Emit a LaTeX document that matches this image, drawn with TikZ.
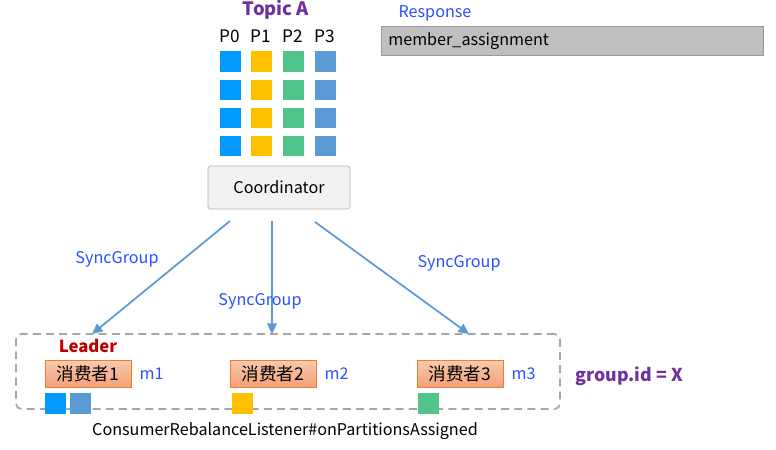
\documentclass[tikz,border=0pt]{standalone}
\usepackage{fontspec}
\setmainfont{Noto Sans CJK SC}
\usetikzlibrary{arrows.meta, positioning}

\definecolor{pzero}{RGB}{0,153,255}
\definecolor{pone}{RGB}{255,192,0}
\definecolor{ptwo}{RGB}{80,196,138}
\definecolor{pthree}{RGB}{91,155,213}
\definecolor{txtblue}{RGB}{40,80,255}
\definecolor{topicpurple}{RGB}{112,48,160}
\definecolor{leaderred}{RGB}{192,0,0}
\definecolor{consline}{RGB}{237,125,49}
\definecolor{constop}{RGB}{248,203,173}
\definecolor{consbot}{RGB}{242,160,120}

\begin{document}
\begin{tikzpicture}[x=0.02cm,y=-0.02cm,
  font=\fontsize{9.2pt}{11pt}\selectfont,
  part/.style={minimum size=0.42cm, inner sep=0pt},
  bluetext/.style={text=txtblue, inner sep=0pt},
  consumer/.style={draw=consline, top color=constop, bottom color=consbot,
    minimum width=1.72cm, minimum height=0.54cm, inner sep=0pt,
    font=\fontsize{10pt}{12pt}\selectfont},
  sync/.style={draw=pthree, line width=1pt, -{Triangle[width=5.5pt,length=6pt]}}]
\useasboundingbox (0,0) rectangle (776,449);

% topic and partitions
\node[text=topicpurple, font=\fontsize{10.5pt}{12pt}\selectfont\bfseries] (topic) at (276,10) {Topic A};
\foreach \cx/\col [count=\i from 0] in {230/pzero, 261/pone, 293/ptwo, 325/pthree}{
  \node[font=\fontsize{9.8pt}{12pt}\selectfont] (lab\i) at (\cx,36) {P\i};
  \foreach \r/\cy in {1/62, 2/90, 3/118, 4/146}
    \node[part, fill=\col] (p\i r\r) at (\cx,\cy) {};
}

% coordinator
\node[draw=gray!60, fill=gray!10, rounded corners=1pt, minimum width=2.84cm,
  minimum height=0.86cm] (coord) at (279,187.5) {Coordinator};

% response
\node[bluetext] (resp) at (435,13) {Response};
\node[draw=gray!80, fill=gray!50, anchor=west, inner xsep=0.14cm, text width=7.36cm,
  align=left, minimum height=0.56cm] (assign) at (381,41) {member\_assignment};

% consumer group
\node[draw=gray!70, line width=1pt, dash pattern=on 4.5pt off 3pt, rounded corners=3pt,
  minimum width=10.88cm, minimum height=1.5cm] (grp) at (288,371.5) {};
\node[consumer] (c1) at (88,373.5) {消费者1};
\node[consumer] (c2) at (273,373.5) {消费者2};
\node[consumer] (c3) at (460,373.5) {消费者3};
\node[text=leaderred, font=\fontsize{9.5pt}{11pt}\selectfont\bfseries, above=0.02cm of c1] (leader) {Leader};
\node[bluetext, right=0.16cm of c1] (m1) {m1};
\node[bluetext, right=0.16cm of c2] (m2) {m2};
\node[bluetext, right=0.16cm of c3] (m3) {m3};
\node[part, fill=pzero] (a1) at (55.5,403) {};
\node[part, fill=pthree] (a2) at (80.5,403) {};
\node[part, fill=pone] (a3) at (242.5,403) {};
\node[part, fill=ptwo] (a4) at (428.5,403) {};
\node[text=topicpurple, font=\fontsize{10.1pt}{12pt}\selectfont\bfseries] (gid) at (629,376) {group.id = X};
\node (listener) at (285,431) {ConsumerRebalanceListener\#onPartitionsAssigned};

% sync group requests
\coordinate (s1) at (230,221);
\coordinate (s2) at (272,221);
\coordinate (s3) at (315,222);
\coordinate (e1) at (92,334);
\coordinate (e2) at (272,334);
\coordinate (e3) at (469,334);
\draw[sync] (s1) -- (e1);
\draw[sync] (s2) -- (e2);
\draw[sync] (s3) -- (e3);
\node[bluetext] (sg1) at (117,259) {SyncGroup};
\node[bluetext] (sg2) at (260,301) {SyncGroup};
\node[bluetext] (sg3) at (459,263) {SyncGroup};
\end{tikzpicture}
\end{document}
